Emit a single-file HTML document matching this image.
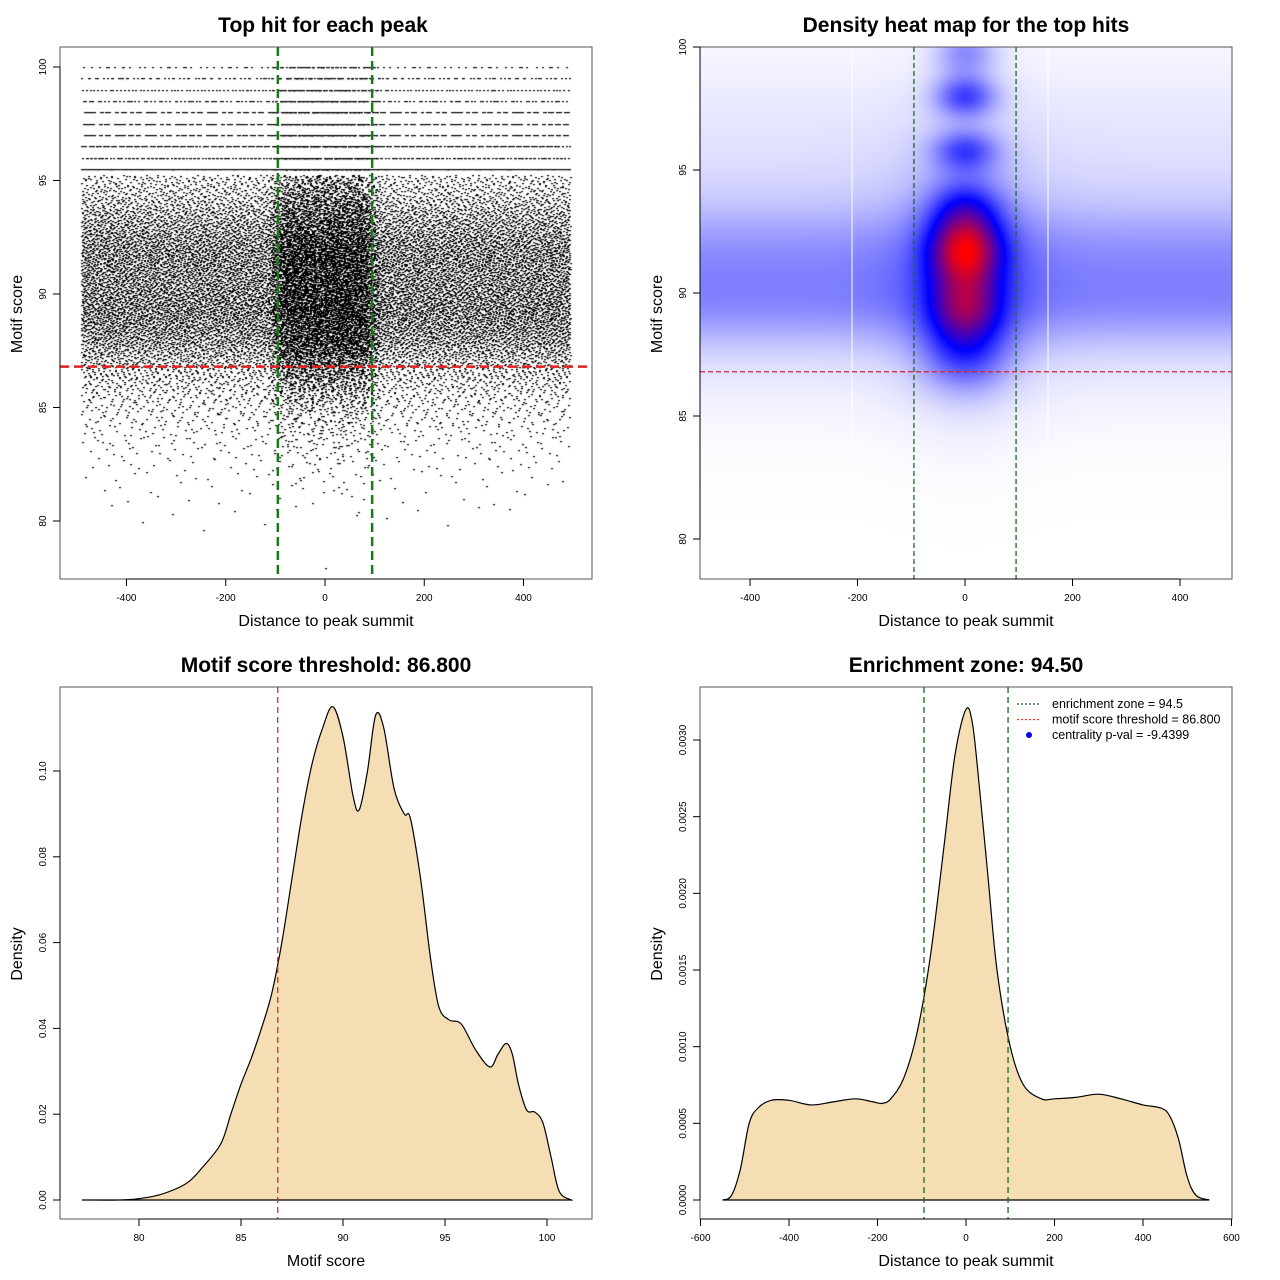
<!DOCTYPE html>
<html><head><meta charset="utf-8"><style>
html,body{margin:0;padding:0;background:#fff;width:1280px;height:1280px;overflow:hidden}
#wrap{position:relative;width:1280px;height:1280px}
canvas,svg{position:absolute;left:0;top:0}
text{font-family:"Liberation Sans",sans-serif}
</style></head><body>
<div id="wrap">
<canvas id="scatter" width="532" height="532" style="left:60px;top:47px"></canvas>
<canvas id="heat" width="532" height="532" style="left:700px;top:47px"></canvas>
<svg id="svg" width="1280" height="1280"></svg>
</div>
<script>
// ---------- DATA ----------
const scoreBins = [78,78.5,79,79.5,80,80.5,81,81.5,82,82.5,83,83.5,84,84.5,85,85.5,86,86.5,87,87.5,88,88.5,89,89.5,90,90.5,91,91.5,92,92.5,93,93.5,94,94.5,95,95.5,96,96.5,97,97.5,98,98.5,99,99.5,100];
const bgCounts = [1,0,0,1,4,8,12,16,24,36,55,80,110,150,200,270,360,480,650,850,1050,1200,1300,1300,1250,1200,1200,1250,1200,1100,950,800,620,480,400,300,220,240,180,180,170,140,130,130,80];
const centralCounts = [0,0,0,0,0,2,4,6,8,12,18,25,35,50,70,100,150,200,260,320,360,380,400,400,390,380,400,400,380,340,300,260,220,180,150,120,100,90,80,80,80,70,60,60,50];
const scoreX = [77.2,79,80,81,82,82.5,83,84,84.5,85,85.5,86,86.5,87,87.5,88,88.5,89,89.5,90,90.5,90.8,91.2,91.6,92,92.5,93,93.3,93.8,94.3,94.7,95.2,95.8,96.5,97.2,97.6,98,98.3,98.6,99,99.4,99.8,100.2,100.6,101.2];
const scoreDens = [0,0,0.0003,0.0012,0.003,0.0045,0.007,0.013,0.02,0.027,0.033,0.04,0.048,0.06,0.075,0.09,0.102,0.11,0.115,0.108,0.094,0.091,0.1,0.113,0.11,0.096,0.09,0.089,0.075,0.056,0.045,0.042,0.041,0.035,0.031,0.034,0.0365,0.034,0.027,0.021,0.0205,0.018,0.01,0.002,0];
const distX = [-550,-530,-510,-490,-470,-440,-400,-350,-300,-250,-210,-190,-170,-140,-110,-80,-50,-25,0,15,30,50,70,100,130,170,200,250,300,350,400,440,460,480,500,520,550];
const distDens = [0,0.00003,0.0002,0.0005,0.0006,0.00065,0.00065,0.00062,0.00064,0.00066,0.00064,0.00063,0.00066,0.0008,0.0011,0.0016,0.0023,0.0029,0.0032,0.0031,0.0027,0.0021,0.0015,0.001,0.00075,0.00066,0.00066,0.00067,0.00069,0.00066,0.00062,0.0006,0.00055,0.0004,0.00015,0.00003,0];
// heatmap gaussian components
const blobX = [0,0,0,0,0,0,0,0,0,0,0,0];
const blobY = [91.7,89.5,93.4,95.8,98,99.8,87.6,91.7,89.5,91,97,91];
const blobA = [0.6,0.4,0.28,0.28,0.32,0.2,0.26,0.1,0.12,0.1,0.03,0.12];
const blobSx = [46,46,46,42,40,40,55,9999,9999,9999,9999,90];
const blobSy = [0.95,0.95,0.9,0.6,0.6,0.7,1.1,1.3,1.2,3.3,2.5,3.5];
const enrichZone = 94.5, threshold = 86.8, halfZone = 95;

// ---------- SCALES ----------
const p1x = d => 325 + d*0.4963, p1y = v => 67 + (100-v)*22.7;
const p2x = d => 965 + d*0.5375, p2y = v => 47 + (100-v)*24.6;
const p3x = s => 139 + (s-80)*20.4, p3y = d => 1200 - d*4290;
const p4x = d => 966 + d*0.4425, p4y = d => 1200 - d*153333;

const NS = "http://www.w3.org/2000/svg";
const svg = document.getElementById('svg');
function el(tag, attrs, parent, txt){
  const e = document.createElementNS(NS, tag);
  for (const k in attrs) e.setAttribute(k, attrs[k]);
  if (txt !== undefined) e.textContent = txt;
  (parent||svg).appendChild(e); return e;
}

// ---------- SCATTER ----------
function halton(i,b){let f=1,r=0;while(i>0){f/=b;r+=f*(i%b);i=Math.floor(i/b);}return r;}
(function(){
  const ctx = document.getElementById('scatter').getContext('2d');
  ctx.fillStyle = '#000';
  let idx = 1;
  scoreBins.forEach((s,bi)=>{
    const snap = s >= 95.5;
    for (let k=0;k<bgCounts[bi];k++,idx++){
      const d = -490 + halton(idx,2)*985;
      const v = snap ? s : s - 0.25 + halton(idx,3)*0.5;
      ctx.fillRect(Math.round(p1x(d)-60-1), Math.round(p1y(v)-47), 2, 1.2);
    }
    for (let k=0;k<centralCounts[bi];k++,idx++){
      const d = (halton(idx,2)*2-1)*95 + (halton(idx,5)-0.5)*40;
      const v = snap ? s : s - 0.25 + halton(idx,3)*0.5;
      ctx.fillRect(Math.round(p1x(d)-60-1), Math.round(p1y(v)-47), 2, 1.2);
    }
  });
})();

// ---------- HEATMAP ----------
(function(){
  const c = document.getElementById('heat'), ctx = c.getContext('2d');
  const img = ctx.createImageData(532,532);
  for (let py=0;py<532;py++){
    const v = 100 - py/24.6;
    for (let px=0;px<532;px++){
      const d = (px+700-965)/0.5375;
      let val = 0;
      for (let b=0;b<blobX.length;b++){
        const dx=(d-blobX[b])/blobSx[b], dy=(v-blobY[b])/blobSy[b];
        val += blobA[b]*Math.exp(-0.5*(dx*dx+dy*dy));
      }
      val = Math.min(1,val);
      let r,g,bb;
      if (val<0.5){const t=val*2;r=255*(1-t);g=255*(1-t);bb=255;}
      else {const t=(val-0.5)*2;r=255*t;g=0;bb=255*(1-t);}
      const i=(py*532+px)*4;
      img.data[i]=r;img.data[i+1]=g;img.data[i+2]=bb;img.data[i+3]=255;
    }
  }
  ctx.putImageData(img,0,0);
})();

// ---------- AXES HELPERS ----------
function box(x,y,w,h,name){ const r=el('rect',{x:x,y:y,width:w,height:h,fill:'none',stroke:'#555','stroke-width':1});   }
function xAxis(ticks, fx, y0, fmt, name){
  const g = el('g',{});
   
  el('line',{x1:fx(ticks[0]),x2:fx(ticks[ticks.length-1]),y1:y0,y2:y0,stroke:'#000'},g);
  ticks.forEach(t=>{ el('line',{x1:fx(t),x2:fx(t),y1:y0,y2:y0+7,stroke:'#000'},g);
    el('text',{x:fx(t),y:y0+22,'font-size':10,'text-anchor':'middle'},g,fmt(t)); });
}
function yAxis(ticks, fy, x0, fmt, name){
  const g = el('g',{});
   
  el('line',{x1:x0,x2:x0,y1:fy(ticks[0]),y2:fy(ticks[ticks.length-1]),stroke:'#000'},g);
  ticks.forEach(t=>{ el('line',{x1:x0,x2:x0-7,y1:fy(t),y2:fy(t),stroke:'#000'},g);
    el('text',{x:x0-14,y:fy(t),'font-size':10,'text-anchor':'middle',transform:`rotate(-90 ${x0-14} ${fy(t)})`},g,fmt(t)); });
}
function title(x,y,t,name){ const e=el('text',{x:x,y:y,'font-size':21,'font-weight':'bold','text-anchor':'middle'},svg,t);   }
function xlab(x,y,t,name){ const e=el('text',{x:x,y:y,'font-size':16,'text-anchor':'middle'},svg,t);   }
function ylab(x,y,t,name){ const e=el('text',{x:x,y:y,'font-size':16,'text-anchor':'middle',transform:`rotate(-90 ${x} ${y})`},svg,t);   }
function vline(x,y1,y2,col,w,dash,name){ const e=el('line',{x1:x,x2:x,y1:y1,y2:y2,stroke:col,'stroke-width':w,'stroke-dasharray':dash});   }
function hline(y,x1,x2,col,w,dash,name){ const e=el('line',{x1:x1,x2:x2,y1:y,y2:y,stroke:col,'stroke-width':w,'stroke-dasharray':dash});   }
function smoothPath(xs,ys,fx,fy){
  const P = xs.map((x,i)=>[fx(x),fy(ys[i])]);
  let d=`M${P[0][0]},${P[0][1]}`;
  for(let i=0;i<P.length-1;i++){
    const p0=P[Math.max(0,i-1)],p1=P[i],p2=P[i+1],p3=P[Math.min(P.length-1,i+2)];
    const c1=[p1[0]+(p2[0]-p0[0])/6,p1[1]+(p2[1]-p0[1])/6];
    const c2=[p2[0]-(p3[0]-p1[0])/6,p2[1]-(p3[1]-p1[1])/6];
    d+=` C${c1[0]},${c1[1]} ${c2[0]},${c2[1]} ${p2[0]},${p2[1]}`;
  }
  return d;
}
const intf = t=>String(t);

// ---------- PANEL 1 ----------
title(323,32,'Top hit for each peak','title-top-hits');
vline(p1x(-halfZone),47,579,'#1a7a1a',2.5,'9,5','zone-left-line-p1');
vline(p1x(halfZone),47,579,'#1a7a1a',2.5,'9,5','zone-right-line-p1');
hline(p1y(threshold),60,592,'#dd2222',2.5,'9,5','threshold-line-p1');
box(60,47,532,532,'plot-box-p1');
xAxis([-400,-200,0,200,400],p1x,579,intf,'x-axis-p1');
yAxis([80,85,90,95,100],p1y,60,intf,'y-axis-p1');
xlab(326,626,'Distance to peak summit','x-axis-title-p1');
ylab(22,314,'Motif score','y-axis-title-p1');

// ---------- PANEL 2 ----------
title(966,32,'Density heat map for the top hits','title-heatmap');
vline(852,47,460,'#ffffff',1,'','heatmap-grid-left');
vline(1048,47,470,'#ffffff',1,'','heatmap-grid-right');
vline(p2x(-halfZone),47,579,'#1a6a1a',1.3,'5,3','zone-left-line-p2');
vline(p2x(halfZone),47,579,'#1a6a1a',1.3,'5,3','zone-right-line-p2');
hline(p2y(threshold),700,1232,'#cc2233',1.3,'5,3','threshold-line-p2');
box(700,47,532,532,'plot-box-p2');
xAxis([-400,-200,0,200,400],p2x,579,intf,'x-axis-p2');
yAxis([80,85,90,95,100],p2y,700,intf,'y-axis-p2');
xlab(966,626,'Distance to peak summit','x-axis-title-p2');
ylab(662,314,'Motif score','y-axis-title-p2');

// ---------- PANEL 3 ----------
title(326,672,'Motif score threshold: 86.800','title-threshold');
(function(){ const d=smoothPath(scoreX,scoreDens,p3x,p3y);
 const e=el('path',{d:d+' Z',fill:'#f5deb3',stroke:'#000','stroke-width':1.2});   })();
vline(p3x(threshold),687,1219,'#cc3333',1.3,'6,4','threshold-line-p3');
box(60,687,532,532,'plot-box-p3');
xAxis([80,85,90,95,100],p3x,1219,intf,'x-axis-p3');
yAxis([0,0.02,0.04,0.06,0.08,0.10],p3y,60,t=>t.toFixed(2),'y-axis-p3');
xlab(326,1266,'Motif score','x-axis-title-p3');
ylab(22,954,'Density','y-axis-title-p3');

// ---------- PANEL 4 ----------
title(966,672,'Enrichment zone: 94.50','title-enrichment');
(function(){ const d=smoothPath(distX,distDens,p4x,p4y);
 const e=el('path',{d:d+' Z',fill:'#f5deb3',stroke:'#000','stroke-width':1.2});   })();
vline(p4x(-halfZone),687,1219,'#1a6a1a',1.3,'6,4','zone-left-line-p4');
vline(p4x(halfZone),687,1219,'#1a6a1a',1.3,'6,4','zone-right-line-p4');
box(700,687,532,532,'plot-box-p4');
xAxis([-600,-400,-200,0,200,400,600],p4x,1219,intf,'x-axis-p4');
yAxis([0,0.0005,0.001,0.0015,0.002,0.0025,0.003],p4y,700,t=>t.toFixed(4),'y-axis-p4');
xlab(966,1266,'Distance to peak summit','x-axis-title-p4');
ylab(662,954,'Density','y-axis-title-p4');

// legend
(function(){
 const g=el('g',{});  
 const items=[['line','#1a6a1a','enrichment zone = '+enrichZone],['line','#ff3030','motif score threshold = '+threshold.toFixed(3)],['dot','#0000ff','centrality p-val = -9.4399']];
 items.forEach((it,i)=>{
   const y=704+i*15.5;
   const row=el('g',{},g);  
   if(it[0]==='line') el('line',{x1:1017,x2:1041,y1:y,y2:y,stroke:it[1],'stroke-width':1.2,'stroke-dasharray':'2,2'},row);
   else el('circle',{cx:1029,cy:y,r:3,fill:it[1]},row);
   el('text',{x:1052,y:y+4,'font-size':12.5},row,it[2]);
 });
})();
</script>
</body></html>
